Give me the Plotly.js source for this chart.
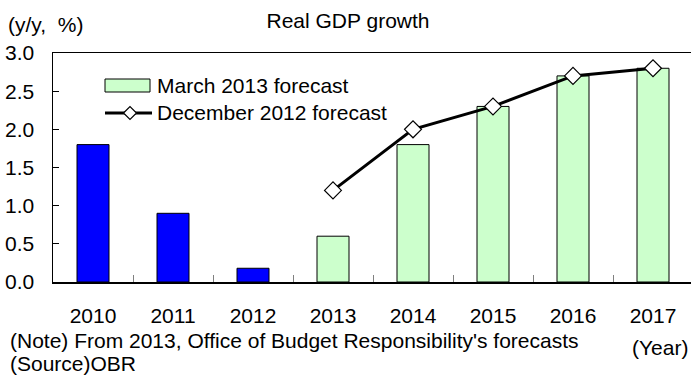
<!DOCTYPE html>
<html>
<head>
<meta charset="utf-8">
<script src="https://cdn.plot.ly/plotly-3.0.1.min.js"></script>
<style>html,body{margin:0;padding:0;background:#fff;}#chart{width:691px;height:376px;}</style>
</head>
<body>
<div id="chart"></div>
<script>
// ---- data ----
const years = ['2010', '2011', '2012', '2013', '2014', '2015', '2016', '2017'];
const actualYears = ['2010', '2011', '2012'];
const actualValues = [1.8, 0.9, 0.18];
const marchYears = ['2013', '2014', '2015', '2016', '2017'];
const marchValues = [0.6, 1.8, 2.3, 2.7, 2.8];
const decYears = ['2013', '2014', '2015', '2016', '2017'];
const decValues = [1.2, 2.0, 2.3, 2.7, 2.8];
const yTicks = [0, 0.5, 1.0, 1.5, 2.0, 2.5, 3.0];

const FONT = 'Arial, "Liberation Sans", "Noto Sans CJK JP", sans-serif';
const FS = 21;
const W = 691, H = 376;
const L = 53, R = 0, T = 53, B = 94;
const pw = W - L - R, ph = H - T - B;
const px = x => (x - L) / pw;
const py = y => (H - B - y) / ph;

const traces = [
  {type: 'bar', x: actualYears, y: actualValues, name: 'Actual', showlegend: false,
   marker: {color: '#0000FF', line: {color: '#000', width: 1}}},
  {type: 'bar', x: marchYears, y: marchValues, name: 'March 2013 forecast', showlegend: false,
   marker: {color: '#CCFFCC', line: {color: '#000', width: 1}}},
  {type: 'scatter', mode: 'lines+markers', x: decYears, y: decValues, name: 'December 2012 forecast',
   showlegend: false, line: {color: '#000', width: 3},
   marker: {symbol: 'diamond', size: 13, color: '#fff', line: {color: '#000', width: 1.2}}}
];

// legend (drawn by hand)
const lx0 = 105, lx1 = 150, dcx = 130, dcy = 113, ds = 6.5;
const shapes = [
  {type: 'rect', xref: 'paper', yref: 'paper', x0: px(lx0), x1: px(lx1), y0: py(92), y1: py(79),
   fillcolor: '#CCFFCC', line: {color: '#000', width: 1}},
  {type: 'line', xref: 'paper', yref: 'paper', x0: px(lx0), x1: px(152), y0: py(dcy), y1: py(dcy),
   line: {color: '#000', width: 3}},
  {type: 'path', xref: 'paper', yref: 'paper',
   path: `M ${px(dcx-ds)},${py(dcy)} L ${px(dcx)},${py(dcy-ds)} L ${px(dcx+ds)},${py(dcy)} L ${px(dcx)},${py(dcy+ds)} Z`,
   fillcolor: '#fff', line: {color: '#000', width: 1.2}}
];

const ann = (text, x, y, xanchor, size) => ({
  text, xref: 'paper', yref: 'paper', x: px(x), y: py(y), xanchor, yanchor: 'middle',
  showarrow: false, font: {family: FONT, size: size, color: '#000'}
});

const annotations = [
  ann('March 2013 forecast', 155, 85, 'left', FS),
  ann('December 2012 forecast', 155, 113, 'left', FS),
  ann('(y/y,&nbsp;&nbsp;%)', 6, 25, 'left', FS),
  ann("(Note) From 2013, Office of Budget Responsibility's forecasts", 8, 340, 'left', FS),
  ann('(Source)OBR', 8, 363, 'left', FS),
  ann('(Year)', 690, 347, 'right', FS)
];

const layout = {
  width: W, height: H,
  margin: {l: L, r: R, t: T, b: B, pad: 0},
  paper_bgcolor: '#fff', plot_bgcolor: '#fff',
  font: {family: FONT, color: '#000', size: FS},
  title: {text: 'Real GDP growth', font: {family: FONT, size: FS, color: '#000'},
          x: 348 / W, xanchor: 'center', y: 1 - 21 / H, yanchor: 'middle', xref: 'container', yref: 'container'},
  barmode: 'overlay', bargap: 0.6,
  showlegend: false,
  xaxis: {type: 'category', categoryorder: 'array', categoryarray: years, range: [-0.5, 7.475],
          showline: true, linecolor: '#000', linewidth: 1.5, mirror: true,
          ticks: 'inside', tickson: 'boundaries', ticklen: 7, tickcolor: '#808080', tickwidth: 1,
          showgrid: false, zeroline: false, fixedrange: true,
          tickfont: {family: FONT, size: FS, color: '#000'}, ticklabelstandoff: 14},
  yaxis: {range: [0, 3], tickvals: yTicks, tickformat: '.1f',
          showline: true, linecolor: '#000', linewidth: 1.5, mirror: false,
          ticks: 'inside', ticklen: 6, tickcolor: '#000', tickwidth: 1,
          showgrid: false, zeroline: false, fixedrange: true,
          tickfont: {family: FONT, size: FS, color: '#000'}, ticklabelstandoff: 13},
  shapes, annotations
};

Plotly.newPlot('chart', traces, layout, {staticPlot: true, displayModeBar: false});
</script>
</body>
</html>
